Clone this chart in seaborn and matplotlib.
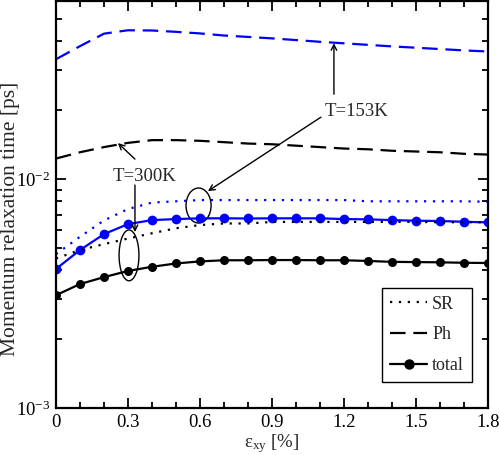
import numpy as np
import pandas as pd
import matplotlib
matplotlib.use("Agg")
import matplotlib.pyplot as plt
import seaborn as sns
from matplotlib.lines import Line2D
from matplotlib.patches import Ellipse
from matplotlib.ticker import LogLocator, MultipleLocator, NullFormatter

# strain values [%]
strain = [0.0, 0.1, 0.2, 0.3, 0.4, 0.5, 0.6, 0.7, 0.8, 0.9,
          1.0, 1.1, 1.2, 1.3, 1.4, 1.5, 1.6, 1.7, 1.8]

# T = 153K (blue)
sr_153 = [0.0047, 0.0056, 0.0066, 0.0074, 0.0079, 0.0080, 0.0081, 0.0081, 0.0081, 0.0081,
          0.0081, 0.0081, 0.0081, 0.0080, 0.0080, 0.0080, 0.0080, 0.0080, 0.00796]
ph_153 = [0.0334, 0.0381, 0.0432, 0.0447, 0.0446, 0.0440, 0.0433, 0.0424, 0.0418, 0.0412,
          0.0405, 0.0398, 0.0392, 0.0386, 0.0380, 0.0375, 0.0370, 0.0365, 0.0361]
tot_153 = [0.00405, 0.00490, 0.00575, 0.00636, 0.00662, 0.00669, 0.00674, 0.00674, 0.00673, 0.00674,
           0.00674, 0.00674, 0.00669, 0.00667, 0.00662, 0.00658, 0.00656, 0.00651, 0.00647]

# T = 300K (black)
sr_300 = [0.0045, 0.0049, 0.0052, 0.0055, 0.0058, 0.0061, 0.0063, 0.0064, 0.0064, 0.0065,
          0.0065, 0.0065, 0.0065, 0.0065, 0.0065, 0.0065, 0.00648, 0.00648, 0.00648]
ph_300 = [0.0123, 0.0131, 0.0138, 0.0144, 0.0148, 0.0148, 0.0147, 0.0145, 0.0143, 0.0142,
          0.0140, 0.0138, 0.0136, 0.0135, 0.0133, 0.0132, 0.0131, 0.0129, 0.0128]
tot_300 = [0.00311, 0.00348, 0.00373, 0.00397, 0.00414, 0.00428, 0.00437, 0.00442, 0.00442, 0.00443,
           0.00443, 0.00442, 0.00442, 0.00439, 0.00435, 0.00434, 0.00433, 0.00431, 0.00430]

series = {
    ("153K", "SR"): sr_153, ("153K", "Ph"): ph_153, ("153K", "total"): tot_153,
    ("300K", "SR"): sr_300, ("300K", "Ph"): ph_300, ("300K", "total"): tot_300,
}
rows = []
for (temp, mech), vals in series.items():
    for s, v in zip(strain, vals):
        rows.append({"strain": s, "tau": v, "T": temp, "mech": mech})
df = pd.DataFrame(rows)

sns.set_theme(style="ticks")
plt.rcParams["font.family"] = ["Liberation Serif", "DejaVu Serif"]
plt.rcParams["mathtext.fontset"] = "custom"
plt.rcParams["mathtext.rm"] = "Liberation Serif"
plt.rcParams["mathtext.it"] = "Liberation Serif:italic"

fig = plt.figure(figsize=(5, 4.55), dpi=100)
ax = fig.add_axes([0.112, 0.1033, 0.864, 0.8945])

colors = {"153K": "#0000ff", "300K": "black"}
styles = {"SR": (0, (1, 3)), "Ph": (0, (7, 3.5)), "total": "-"}

for (temp, mech), sub in df.groupby(["T", "mech"]):
    kw = dict(marker="o", markersize=7 if temp == "153K" else 6.5,
              markeredgewidth=0) if mech == "total" else {}
    sns.lineplot(data=sub, x="strain", y="tau", ax=ax, color=colors[temp],
                 linestyle=styles[mech], linewidth=1.6, legend=False, **kw)

ax.set_yscale("log")
ax.set_xlim(0, 1.8)
ax.set_ylim(1e-3, 0.06)
ax.xaxis.set_minor_locator(MultipleLocator(0.1))
ax.set_xticks([0, 0.3, 0.6, 0.9, 1.2, 1.5, 1.8])
ax.set_xticklabels(["0", "0.3", "0.6", "0.9", "1.2", "1.5", "1.8"])
ax.yaxis.set_major_locator(LogLocator(base=10))
ax.yaxis.set_minor_locator(LogLocator(base=10, subs=np.arange(2, 10)))
ax.yaxis.set_minor_formatter(NullFormatter())
ax.tick_params(which="both", direction="in", top=True, right=True,
               labelsize=13.5, width=1.3, colors="black")
ax.tick_params(which="major", length=7, pad=4)
ax.tick_params(which="minor", length=4)
for sp in ax.spines.values():
    sp.set_linewidth(1.6)
    sp.set_color("black")

ax.set_xlabel(r"ε$_{\rm xy}$ [%]", fontsize=13.5, labelpad=1)
ax.set_ylabel("Momentum relaxation time [ps]", fontsize=15.5, va="center")
ax.yaxis.set_label_coords(-0.106, 0.4656)

# annotations
arw = dict(arrowstyle="->", color="black", lw=1, shrinkA=0, shrinkB=0, mutation_scale=10)
ax.text(0.367, 0.0103, "T=300K", fontsize=13.5, ha="center", va="center")
ax.annotate("", xy=(0.258, 0.01437), xytext=(0.329, 0.01223), arrowprops=arw)
ax.annotate("", xy=(0.329, 0.00587), xytext=(0.329, 0.00942), arrowprops=arw)
ax.text(1.254, 0.0198, "T=153K", fontsize=13.5, ha="center", va="center")
ax.annotate("", xy=(1.158, 0.03925), xytext=(1.158, 0.0235), arrowprops=arw)
ax.annotate("", xy=(0.633, 0.00886), xytext=(1.104, 0.01865), arrowprops=arw)

ax.add_patch(Ellipse((0.330, 0.4975), 0.058, 0.086, transform=ax.transAxes,
                     fill=False, edgecolor="black", lw=1))
ax.add_patch(Ellipse((0.169, 0.375), 0.046, 0.125, transform=ax.transAxes,
                     fill=False, edgecolor="black", lw=1))

handles = [
    Line2D([], [], color="black", linestyle=(0, (1, 3)), lw=1.6),
    Line2D([], [], color="black", linestyle=(0, (7, 3.5)), lw=1.6),
    Line2D([], [], color="black", linestyle="-", lw=1.6, marker="o", markersize=6.5,
           markevery=[0, 1]),
]
leg = ax.legend(handles, ["SR", "Ph", "total"], loc="lower right",
                bbox_to_anchor=(0.963, 0.064), fontsize=13, frameon=True,
                fancybox=False, edgecolor="black", framealpha=1,
                handlelength=2.0, handletextpad=0.3, borderpad=0.45,
                labelspacing=0.75, borderaxespad=0)
leg.get_frame().set_linewidth(1)

fig.savefig("out.png", dpi=100)
